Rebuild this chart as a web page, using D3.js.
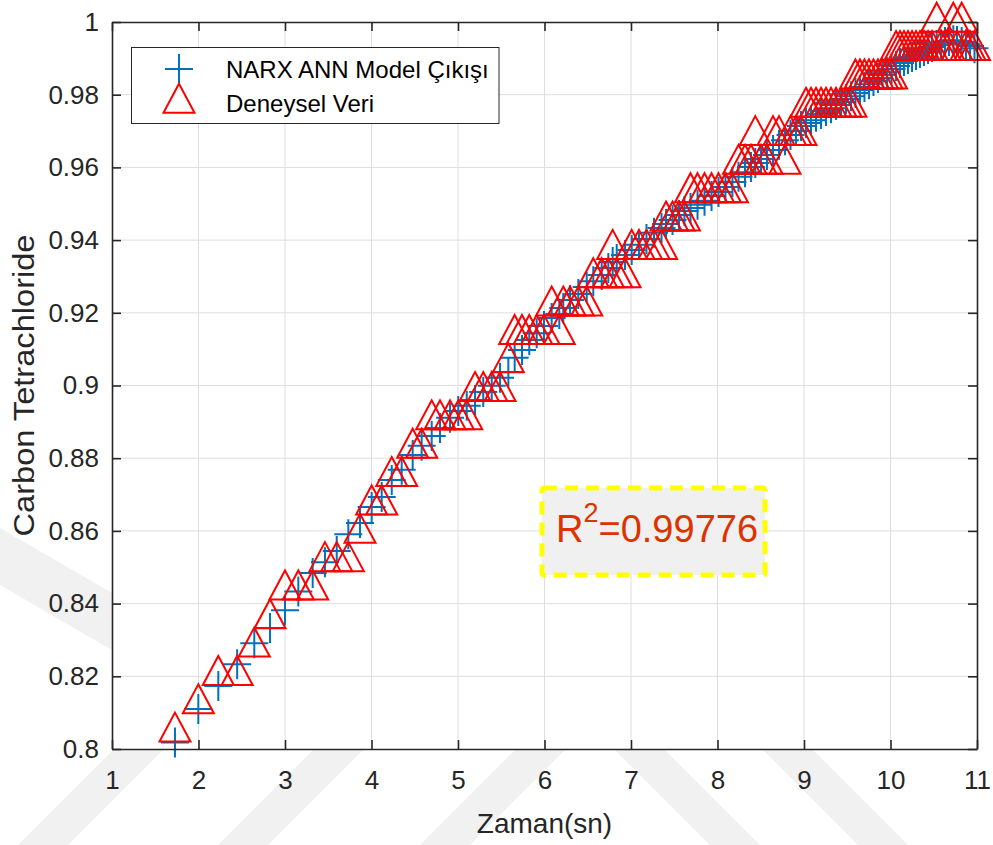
<!DOCTYPE html>
<html>
<head>
<meta charset="utf-8">
<script src="https://cdn.jsdelivr.net/npm/d3@7"></script>
<style>
  body { margin: 0; background: #fff; }
  svg { display: block; }
  text { font-family: "Liberation Sans", Arial, sans-serif; fill: #262626; }
</style>
</head>
<body>
<svg width="993" height="845"></svg>
<script>
// time (s), shared by both series
const time = [1.728, 1.998, 2.229, 2.447, 2.645, 2.827, 3.000, 3.154, 3.320, 3.462,
  3.598, 3.732, 3.867, 4.002, 4.118, 4.234, 4.349, 4.476, 4.580, 4.696,
  4.792, 4.908, 5.003, 5.101, 5.197, 5.292, 5.390, 5.486, 5.582, 5.655,
  5.740, 5.824, 5.910, 5.994, 6.083, 6.171, 6.217, 6.295, 6.391, 6.488,
  6.564, 6.661, 6.738, 6.788, 6.835, 6.931, 7.008, 7.092, 7.179, 7.266,
  7.353, 7.405, 7.480, 7.555, 7.618, 7.688, 7.769, 7.850, 7.931, 8.012,
  8.092, 8.173, 8.243, 8.318, 8.387, 8.437, 8.503, 8.572, 8.642, 8.711,
  8.780, 8.844, 8.908, 8.965, 9.023, 9.081, 9.139, 9.197, 9.254, 9.312,
  9.370, 9.428, 9.486, 9.543, 9.595, 9.647, 9.699, 9.751, 9.803, 9.855,
  9.908, 9.960, 10.012, 10.064, 10.110, 10.156, 10.202, 10.249, 10.295, 10.341,
  10.387, 10.434, 10.480, 10.534, 10.584, 10.630, 10.676, 10.726, 10.769, 10.823,
  10.873, 10.919, 10.971]

// NARX ANN model output
const modelOut = [0.8018, 0.8110, 0.8173, 0.8233, 0.8291, 0.8333, 0.8382, 0.8433, 0.8484, 0.8514,
  0.8545, 0.8591, 0.8622, 0.8666, 0.8693, 0.8740, 0.8768, 0.8809, 0.8834, 0.8861,
  0.8883, 0.8911, 0.8930, 0.8944, 0.8960, 0.8982, 0.8999, 0.9021, 0.9037, 0.9076,
  0.9098, 0.9125, 0.9144, 0.9164, 0.9186, 0.9197, 0.9213, 0.9235, 0.9252, 0.9271,
  0.9287, 0.9304, 0.9323, 0.9340, 0.9348, 0.9359, 0.9373, 0.9387, 0.9403, 0.9420,
  0.9433, 0.9444, 0.9455, 0.9469, 0.9480, 0.9488, 0.9497, 0.9508, 0.9521, 0.9532,
  0.9546, 0.9560, 0.9574, 0.9587, 0.9601, 0.9612, 0.9623, 0.9634, 0.9648, 0.9662,
  0.9675, 0.9689, 0.9700, 0.9714, 0.9722, 0.9730, 0.9739, 0.9747, 0.9755, 0.9763,
  0.9772, 0.9780, 0.9788, 0.9796, 0.9805, 0.9813, 0.9821, 0.9829, 0.9838, 0.9846,
  0.9854, 0.9862, 0.9871, 0.9879, 0.9887, 0.9893, 0.9898, 0.9904, 0.9909, 0.9915,
  0.9920, 0.9926, 0.9931, 0.9937, 0.9939, 0.9945, 0.9948, 0.9950, 0.9948, 0.9945,
  0.9939, 0.9934, 0.9928]

// experimental data (Deneysel Veri)
const measured = [0.8047, 0.8125, 0.8203, 0.8203, 0.8281, 0.8359, 0.8438, 0.8438, 0.8438, 0.8516,
  0.8516, 0.8516, 0.8594, 0.8672, 0.8672, 0.8750, 0.8750, 0.8828, 0.8828, 0.8906,
  0.8906, 0.8906, 0.8906, 0.8906, 0.8984, 0.8984, 0.8984, 0.8984, 0.9063, 0.9141,
  0.9141, 0.9141, 0.9141, 0.9141, 0.9219, 0.9141, 0.9219, 0.9219, 0.9219, 0.9219,
  0.9297, 0.9297, 0.9297, 0.9375, 0.9297, 0.9297, 0.9375, 0.9375, 0.9375, 0.9375,
  0.9375, 0.9453, 0.9453, 0.9453, 0.9453, 0.9531, 0.9531, 0.9531, 0.9531, 0.9531,
  0.9531, 0.9531, 0.9609, 0.9609, 0.9609, 0.9688, 0.9609, 0.9609, 0.9688, 0.9688,
  0.9609, 0.9688, 0.9688, 0.9688, 0.9766, 0.9766, 0.9766, 0.9766, 0.9766, 0.9766,
  0.9766, 0.9766, 0.9766, 0.9766, 0.9844, 0.9844, 0.9844, 0.9844, 0.9844, 0.9844,
  0.9844, 0.9844, 0.9844, 0.9922, 0.9922, 0.9922, 0.9922, 0.9922, 0.9922, 0.9922,
  0.9922, 0.9922, 0.9922, 1.0000, 0.9922, 0.9922, 0.9922, 1.0000, 0.9922, 1.0000,
  0.9922, 0.9922, 0.9922]

const xTicks = [1, 2, 3, 4, 5, 6, 7, 8, 9, 10, 11]
const yTicks = [0.8, 0.82, 0.84, 0.86, 0.88, 0.9, 0.92, 0.94, 0.96, 0.98, 1]
const yTickLabels = ['0.8', '0.82', '0.84', '0.86', '0.88', '0.9', '0.92', '0.94', '0.96', '0.98', '1']
const legendLabels = ['NARX ANN Model Çıkışı', 'Deneysel Veri']
const xTitle = 'Zaman(sn)'
const yTitle = 'Carbon Tetrachloride'
const r2Value = '0.99776'

const blue = '#0072bd'
const red = '#ff0000'
const axisColor = '#262626'

const svg = d3.select('svg')
const plot = { left: 112, right: 977, top: 22, bottom: 749 }

const x = d3.scaleLinear().domain([1, 11]).range([plot.left, plot.right])
const y = d3.scaleLinear().domain([0.8, 1]).range([plot.bottom, plot.top])

// faint watermark behind the figure (only shows outside the axes)
const wm = svg.append('g').attr('fill', '#f1f1f1')
const stripes = [
  [[0, 528], [0, 585], [112, 650], [112, 593]],
  [[18, 845], [68, 845], [164, 749], [114, 749]],
  [[218, 845], [268, 845], [364, 749], [314, 749]],
  [[420, 845], [470, 845], [566, 749], [516, 749]],
  [[614, 749], [664, 749], [760, 845], [710, 845]],
  [[762, 749], [812, 749], [908, 845], [858, 845]],
]
wm.selectAll('polygon').data(stripes).join('polygon')
  .attr('points', (d) => d.map((p) => p.join(',')).join(' '))

// white axes background
svg.append('rect')
  .attr('x', plot.left).attr('y', plot.top)
  .attr('width', plot.right - plot.left).attr('height', plot.bottom - plot.top)
  .attr('fill', '#fff')

// grid
const grid = svg.append('g').attr('stroke', '#dedede').attr('stroke-width', 1)
grid.selectAll('.gx').data(xTicks.slice(1, -1)).join('line')
  .attr('class', 'gx')
  .attr('x1', (d) => x(d)).attr('x2', (d) => x(d))
  .attr('y1', plot.top).attr('y2', plot.bottom)
grid.selectAll('.gy').data(yTicks.slice(1, -1)).join('line')
  .attr('class', 'gy')
  .attr('y1', (d) => y(d)).attr('y2', (d) => y(d))
  .attr('x1', plot.left).attr('x2', plot.right)

// markers
const plusPath = 'M-14,0H14M0,-15V15'
// triangle with its centroid at the data point
const triPath = 'M0,-19.3L15.5,9.7L-15.5,9.7Z'

svg.append('g')
  .selectAll('path')
  .data(time)
  .join('path')
  .attr('d', plusPath)
  .attr('transform', (d, i) => `translate(${x(d)},${y(modelOut[i])})`)
  .attr('fill', 'none')
  .attr('stroke', blue)
  .attr('stroke-width', 2)

svg.append('g')
  .selectAll('path')
  .data(time)
  .join('path')
  .attr('d', triPath)
  .attr('transform', (d, i) => `translate(${x(d)},${y(measured[i])})`)
  .attr('fill', 'none')
  .attr('stroke', red)
  .attr('stroke-width', 2)

// axes, ticks pointing inward
const fmtY = (d) => yTickLabels[yTicks.indexOf(d)]
const styleAxis = (g) => {
  g.select('.domain').attr('stroke', axisColor).attr('stroke-width', 1.6)
  g.selectAll('.tick line').attr('stroke', axisColor).attr('stroke-width', 1.6)
  g.selectAll('.tick text')
    .attr('fill', axisColor)
    .style('font-size', '26px')
    .style('font-family', '"Liberation Sans", Arial, sans-serif')
}

svg.append('g')
  .attr('transform', `translate(0,${plot.bottom})`)
  .call(d3.axisBottom(x).tickValues(xTicks).tickFormat(d3.format('d'))
    .tickSizeInner(-9).tickSizeOuter(0).tickPadding(22))
  .call(styleAxis)

svg.append('g')
  .attr('transform', `translate(0,${plot.top})`)
  .call(d3.axisTop(x).tickValues(xTicks).tickFormat('')
    .tickSizeInner(-9).tickSizeOuter(0))
  .call(styleAxis)

svg.append('g')
  .attr('transform', `translate(${plot.left},0)`)
  .call(d3.axisLeft(y).tickValues(yTicks).tickFormat(fmtY)
    .tickSizeInner(-9).tickSizeOuter(0).tickPadding(13))
  .call(styleAxis)

svg.append('g')
  .attr('transform', `translate(${plot.right},0)`)
  .call(d3.axisRight(y).tickValues(yTicks).tickFormat('')
    .tickSizeInner(-9).tickSizeOuter(0))
  .call(styleAxis)

// axis titles
svg.append('text')
  .attr('x', (plot.left + plot.right) / 2).attr('y', 833)
  .attr('text-anchor', 'middle')
  .style('font-size', '28px')
  .text(xTitle)

svg.append('text')
  .attr('transform', `translate(34,${(plot.top + plot.bottom) / 2}) rotate(-90)`)
  .attr('text-anchor', 'middle')
  .attr('textLength', 302)
  .attr('lengthAdjust', 'spacingAndGlyphs')
  .style('font-size', '29px')
  .text(yTitle)

// legend
const legend = svg.append('g')
legend.append('rect')
  .attr('x', 131.5).attr('y', 47.5).attr('width', 367.5).attr('height', 76)
  .attr('fill', '#fff').attr('stroke', axisColor).attr('stroke-width', 1)
const rows = [69, 103]
legend.append('path')
  .attr('d', plusPath).attr('transform', `translate(179,${rows[0]})`)
  .attr('fill', 'none').attr('stroke', blue).attr('stroke-width', 2)
legend.append('path')
  .attr('d', triPath).attr('transform', `translate(179,${rows[1]})`)
  .attr('fill', 'none').attr('stroke', red).attr('stroke-width', 2)
legend.selectAll('text').data(legendLabels).join('text')
  .attr('x', 226).attr('y', (d, i) => rows[i] + 9)
  .style('font-size', '24px')
  .style('fill', '#000')
  .text((d) => d)

// R^2 annotation
const ann = svg.append('g')
ann.append('rect')
  .attr('x', 542).attr('y', 488).attr('width', 223).attr('height', 87)
  .attr('rx', 2)
  .attr('fill', '#f0f0f0')
  .attr('stroke', '#ffff00').attr('stroke-width', 5)
  .attr('stroke-dasharray', '13 8')
const r2 = ann.append('text')
  .attr('x', 556).attr('y', 542)
  .style('font-size', '38px')
  .style('fill', '#dd3300')
r2.append('tspan').text('R')
r2.append('tspan').attr('dy', -20).style('font-size', '27px').text('2')
r2.append('tspan').attr('dy', 20).text('=' + r2Value)
</script>
</body>
</html>
